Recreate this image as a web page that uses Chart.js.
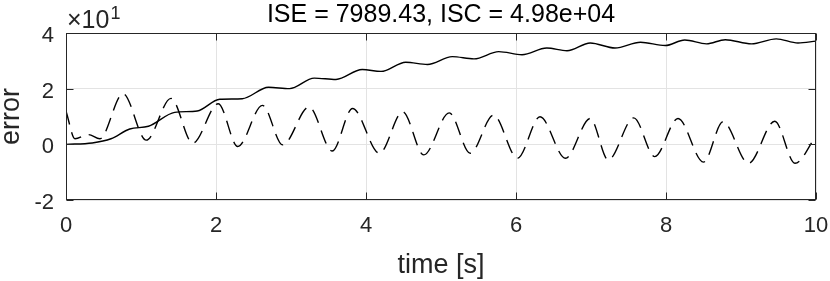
<!DOCTYPE html>
<html>
<head>
<meta charset="utf-8">
<script src="https://cdn.jsdelivr.net/npm/chart.js@4.4.1/dist/chart.umd.min.js"></script>
<style>
  html, body { margin: 0; padding: 0; background: #fff; }
  #wrap { width: 830px; height: 281px; }
</style>
</head>
<body>
<div id="wrap"><canvas id="err_chart"></canvas></div>
<script>
// values (units of 10^1)
const solid_t = [0, 0.35, 0.6, 0.85, 1.1, 1.45, 1.75, 2.05, 2.35, 2.7, 2.98, 3.31, 3.6, 3.95, 4.2, 4.53, 4.82, 5.15, 5.44, 5.77, 6.08, 6.41, 6.68, 6.99, 7.32, 7.66, 7.99, 8.25, 8.54, 8.79, 9.14, 9.47, 9.76, 10];
const solid_v = [0, 0.05, 0.2, 0.55, 0.65, 1.15, 1.2, 1.62, 1.64, 2.05, 2.0, 2.38, 2.33, 2.69, 2.62, 2.95, 2.87, 3.15, 3.07, 3.33, 3.22, 3.46, 3.36, 3.64, 3.46, 3.67, 3.55, 3.75, 3.61, 3.76, 3.61, 3.79, 3.64, 3.71];

const dashed_t = [0, 0.12, 0.3, 0.45, 0.76, 1.07, 1.4, 1.69, 2.03, 2.29, 2.62, 2.89, 3.24, 3.55, 3.82, 4.18, 4.49, 4.77, 5.11, 5.39, 5.7, 6.02, 6.32, 6.66, 6.99, 7.23, 7.57, 7.85, 8.16, 8.5, 8.76, 9.1, 9.45, 9.72, 10];
const dashed_v = [1.2, 0.2, 0.35, 0.2, 1.82, 0.15, 1.65, 0.04, 1.46, -0.08, 1.4, -0.02, 1.34, -0.24, 1.29, -0.32, 1.17, -0.38, 1.13, -0.32, 1.05, -0.5, 0.99, -0.5, 0.93, -0.56, 0.95, -0.44, 0.93, -0.64, 0.81, -0.68, 0.83, -0.68, 0.3];

const x_ticks = [0, 2, 4, 6, 8, 10];
const y_ticks = [-2, 0, 2, 4];

const title_text = 'ISE = 7989.43, ISC = 4.98e+04';
const x_label = 'time [s]';
const y_label = 'error';

const FONT = '"Liberation Sans", Arial, Helvetica, sans-serif';
const AX = '#262626';

function pts(t, v) {
    return t.map((x, i) => ({ x: x, y: v[i] }));
}

// box, inward ticks, title and labels, matlab style
const matlabAxes = {
    id: 'matlabAxes',
    afterDraw(chart) {
        const ctx = chart.ctx;
        const a = chart.chartArea;
        const xs = chart.scales.x, ys = chart.scales.y;
        const L = Math.round(a.left) + 0.5, R = Math.round(a.right) - 0.5;
        const T = Math.round(a.top) + 0.5, B = Math.round(a.bottom) - 0.5;
        ctx.save();
        ctx.strokeStyle = AX;
        ctx.lineWidth = 1;
        ctx.strokeRect(L, T, R - L, B - T);
        ctx.beginPath();
        x_ticks.forEach(v => {
            const px = Math.round(xs.getPixelForValue(v)) + 0.5;
            ctx.moveTo(px, B); ctx.lineTo(px, B - 7);
            ctx.moveTo(px, T); ctx.lineTo(px, T + 7);
        });
        y_ticks.forEach(v => {
            const py = Math.round(ys.getPixelForValue(v)) + 0.5;
            ctx.moveTo(L, py); ctx.lineTo(L + 7, py);
            ctx.moveTo(R, py); ctx.lineTo(R - 7, py);
        });
        ctx.stroke();

        ctx.fillStyle = '#000';
        ctx.textAlign = 'center';
        ctx.textBaseline = 'alphabetic';
        ctx.font = '25px ' + FONT;
        ctx.fillText(title_text, (a.left + a.right) / 2, 22);

        ctx.fillStyle = AX;
        ctx.font = '27px ' + FONT;
        ctx.fillText(x_label, (a.left + a.right) / 2, 273);
        ctx.save();
        ctx.translate(19, (a.top + a.bottom) / 2);
        ctx.rotate(-Math.PI / 2);
        ctx.fillText(y_label, 0, 0);
        ctx.restore();

        // exponent label
        ctx.textAlign = 'left';
        ctx.font = '25px ' + FONT;
        ctx.fillText('\u00d710', 67, 28);
        const w = ctx.measureText('\u00d710').width;
        ctx.font = '18px ' + FONT;
        ctx.fillText('1', 67 + w + 1, 19);
        ctx.restore();
    }
};

new Chart(document.getElementById('err_chart').getContext('2d'), {
    type: 'line',
    data: {
        datasets: [{
            label: 'solid',
            data: pts(solid_t, solid_v),
            borderColor: '#000',
            borderWidth: 1.4,
            pointRadius: 0,
            cubicInterpolationMode: 'monotone',
            fill: false
        }, {
            label: 'dashed',
            data: pts(dashed_t, dashed_v),
            borderColor: '#000',
            borderWidth: 1.4,
            borderDash: [14, 8],
            pointRadius: 0,
            cubicInterpolationMode: 'monotone',
            fill: false
        }]
    },
    options: {
        responsive: true,
        maintainAspectRatio: false,
        animation: false,
        layout: { padding: { top: 33, right: 14, left: 0, bottom: 0 } },
        plugins: { legend: { display: false }, tooltip: { enabled: false } },
        scales: {
            x: {
                type: 'linear',
                min: 0, max: 10,
                afterFit: s => { s.height = 81; s.paddingLeft = 0; s.paddingRight = 0; },
                afterBuildTicks: s => { s.ticks = x_ticks.map(v => ({ value: v })); },
                grid: { color: '#e3e3e3', drawTicks: false },
                border: { display: false },
                ticks: { color: AX, font: { family: FONT, size: 22 }, padding: 13, maxRotation: 0 }
            },
            y: {
                min: -2, max: 4,
                afterFit: s => { s.width = 66; s.paddingTop = 0; s.paddingBottom = 0; },
                afterBuildTicks: s => { s.ticks = y_ticks.map(v => ({ value: v })); },
                grid: { color: '#e3e3e3', drawTicks: false },
                border: { display: false },
                ticks: { color: AX, font: { family: FONT, size: 22 }, padding: 12, labelOffset: 3 }
            }
        }
    },
    plugins: [matlabAxes]
});
</script>
</body>
</html>
